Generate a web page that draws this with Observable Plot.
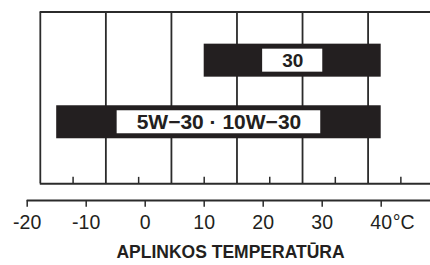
<!DOCTYPE html>
<html><head><meta charset="utf-8">
<script src="https://cdn.jsdelivr.net/npm/d3@7"></script>
<script src="https://cdn.jsdelivr.net/npm/@observablehq/plot@0.6"></script>
<style>html,body{margin:0;padding:0;background:#fff;overflow:hidden}</style>
</head><body><div id="chart"></div>
<script>
// ---- data ----
const grades = ["30", "5W\u221230 \u00B7 10W\u221230"];
const lowC = [10, -15];
const highC = [40, 40];
const celsiusTicks = [-20, -10, 0, 10, 20, 30, 40];
const fahrenheitLines = [0, 20, 40, 60, 80, 100];
const fahrenheitMinor = [10, 30, 50, 70, 90, 110];
const unitLabel = "°C";
const title = "APLINKOS TEMPERATŪRA";

// ---- layout / style ----
const f2c = f => (f - 32) * 5 / 9;
const INK = "#231f20", LINE = "#2b2b2b";
const FONT = "'Liberation Sans', Arial, Helvetica, sans-serif";
const X_DOMAIN = [-20, 40], X_RANGE = [26.7, 380.7];
const pxPerC = (X_RANGE[1] - X_RANGE[0]) / (X_DOMAIN[1] - X_DOMAIN[0]);
const Y_DOMAIN = [-0.27, 2.79], Y_RANGE = [200, 11.5];
const yTop = Y_DOMAIN[1], yBase = 0, yAxis = Y_DOMAIN[0];
const pxPerY = (Y_RANGE[0] - Y_RANGE[1]) / (Y_DOMAIN[1] - Y_DOMAIN[0]);
const barHalf = 16.5 / pxPerY, boxHalf = 11.5 / pxPerY;
const minorLen = 6.5 / pxPerY, tickLen = 6.7 / pxPerY;
const labelSize = g => g.length < 4 ? 19 : 21;
const ctx = document.createElement("canvas").getContext("2d");
const textW = (s, size) => { ctx.font = `bold ${size}px ${FONT}`; return ctx.measureText(s).width; };
const rows = grades.map((g, i) => {
  const center = (lowC[i] + highC[i]) / 2;
  const size = labelSize(g);
  const half = (textW(g, size) / 2 + 19.5) / pxPerC;
  return {grade: g, low: lowC[i], high: highC[i], row: grades.length - i, center, size,
          bx1: center - half, bx2: center + half};
});
const leftC = f2c(fahrenheitLines[0]);
const rightEdge = 50;

const chart = Plot.plot({
  width: 430, height: 265,
  marginLeft: 0, marginRight: 0, marginTop: 11.5, marginBottom: 65,
  style: {fontFamily: FONT, background: "#fff", overflow: "hidden"},
  x: {domain: X_DOMAIN, range: X_RANGE, axis: null},
  y: {domain: Y_DOMAIN, range: Y_RANGE, axis: null},
  marks: [
    Plot.ruleX(fahrenheitLines, {x: f2c, y1: yBase, y2: yTop, stroke: LINE, strokeWidth: 1.8}),
    Plot.ruleX(fahrenheitMinor, {x: f2c, y1: yBase, y2: yBase + minorLen, stroke: LINE, strokeWidth: 1.5}),
    Plot.ruleY([yTop], {x1: leftC, x2: rightEdge, stroke: LINE, strokeWidth: 2}),
    Plot.ruleY([yBase], {x1: leftC, x2: rightEdge, stroke: LINE, strokeWidth: 2}),
    Plot.rect(rows, {x1: "low", x2: "high", y1: d => d.row - barHalf, y2: d => d.row + barHalf, fill: INK}),
    Plot.rect(rows, {x1: "bx1", x2: "bx2", y1: d => d.row - boxHalf, y2: d => d.row + boxHalf, fill: "#fff"}),
    Plot.text(rows, {x: "center", y: "row", text: "grade", fontSize: d => d.size, fontWeight: "bold", fill: INK}),
    Plot.ruleY([yAxis], {x1: celsiusTicks[0], x2: rightEdge, stroke: LINE, strokeWidth: 2}),
    Plot.ruleX(celsiusTicks, {x: d => d, y1: yAxis, y2: yAxis - tickLen, stroke: LINE, strokeWidth: 1.5}),
    Plot.text(celsiusTicks, {x: d => d, y: yAxis, dy: 22, text: d => String(d), fontSize: 19.5, fill: INK}),
    Plot.text([unitLabel], {x: celsiusTicks[celsiusTicks.length - 1], y: yAxis, dx: 11.5, dy: 22, text: d => d,
      textAnchor: "start", fontSize: 19.5, fill: INK}),
    Plot.text([title], {frameAnchor: "bottom", dx: 15, dy: 57, text: d => d, fontWeight: "bold", fontSize: 17.5, fill: INK})
  ]
});
document.getElementById("chart").appendChild(chart);
</script>
</body></html>
